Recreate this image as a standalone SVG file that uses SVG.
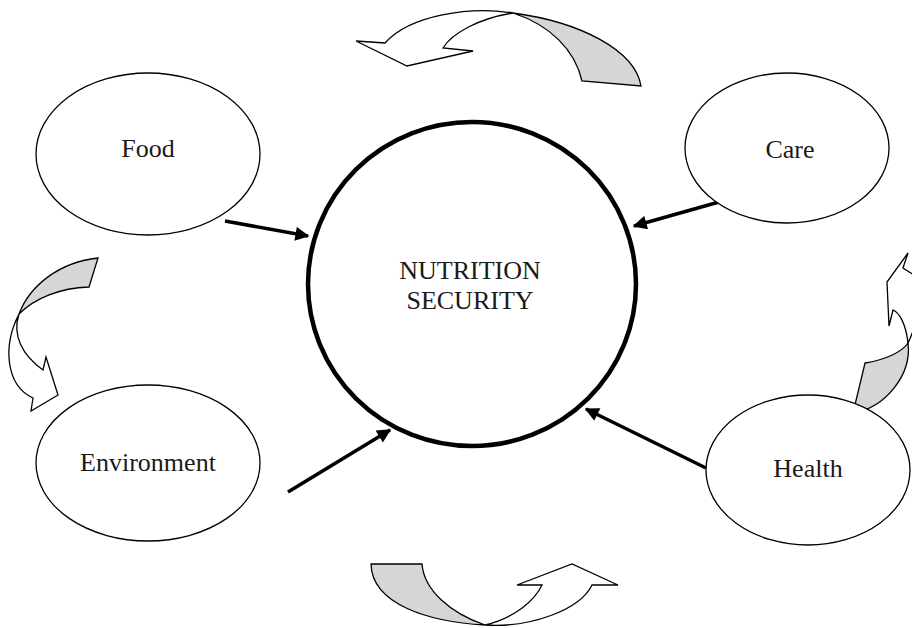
<svg xmlns="http://www.w3.org/2000/svg" width="912" height="628" viewBox="0 0 912 628">
<style>
.node{fill:#fff;stroke:#000;stroke-width:1.3}
.lbl{font-family:"Liberation Serif","Times New Roman",serif;font-size:26px;fill:#1a1a1a;text-anchor:middle}
.conn{stroke:#000;stroke-width:3.5;fill:none;marker-end:url(#ah)}
.band{fill:#d6d6d6;stroke:#000;stroke-width:1.3;stroke-linejoin:miter}
.face{fill:#fff;stroke:#000;stroke-width:1.3;stroke-linejoin:miter}
</style>
<defs>
<marker id="ah" viewBox="0 0 10 10" refX="9" refY="5" markerWidth="4.5" markerHeight="4" orient="auto" markerUnits="strokeWidth">
<path d="M0,0 L10,5 L0,10 Z" fill="#000"/>
</marker>
</defs>
<g id="cycle">
<g id="arrow-top">
<path class="band" d="M513,13 C580,22 635,50 641,86 L582,81 C575,50 550,25 513,13 Z"/>
<path class="face" d="M513,13 C470,6 410,15 385,43 L356,41 L407,66 L473,51 L443,48 C452,33 480,18 513,13 Z"/>
</g>
<g id="arrow-left">
<path class="band" d="M98,258 C60,262 30,285 19,314 C35,298 60,288 89,287 Z"/>
<path class="face" d="M19,314 C3,345 5,385 33,398 L31,411 L58,395 L46,357 L43,370 C22,355 12,335 19,314 Z"/>
</g>
<g id="arrow-right">
<path class="band" d="M908,343 C912,375 885,408 853,413 L865,363 C885,360 902,352 908,343 Z"/>
<path class="face" d="M908,343 C906,325 900,313 893,310 L889,326 L887,282 L908,253 L903,268 L922,280 L917,300 C918,318 913,333 908,343 Z"/>
</g>
<g id="arrow-bottom">
<path class="band" d="M371,564 L422,564 C424,590 450,613 485,625 C430,622 372,605 371,564 Z"/>
<path class="face" d="M485,625 C515,618 535,600 542,585 L517,585 L572,564 L618,585 L592,585 C580,610 530,628 485,625 Z"/>
</g>
</g>
<g id="connectors">
<line class="conn" x1="225" y1="221" x2="308" y2="236"/>
<line class="conn" x1="719" y1="202" x2="634" y2="226"/>
<line class="conn" x1="288" y1="492" x2="390" y2="430"/>
<line class="conn" x1="706" y1="468" x2="586" y2="409"/>
</g>
<g id="nutrition-security">
<ellipse cx="472" cy="284" rx="164" ry="162" fill="#fff" stroke="#000" stroke-width="4.5"/>
<text class="lbl" x="470" y="279">NUTRITION<tspan x="470" dy="30">SECURITY</tspan></text>
</g>
<g id="food">
<ellipse class="node" cx="148" cy="154" rx="112" ry="81"/>
<text class="lbl" x="148" y="157">Food</text>
</g>
<g id="care">
<ellipse class="node" cx="787" cy="148" rx="102" ry="75"/>
<text class="lbl" x="790" y="158">Care</text>
</g>
<g id="environment">
<ellipse class="node" cx="148" cy="463" rx="112" ry="78"/>
<text class="lbl" x="148" y="471">Environment</text>
</g>
<g id="health">
<ellipse class="node" cx="808" cy="470" rx="102" ry="75"/>
<text class="lbl" x="808" y="477">Health</text>
</g>
</svg>
